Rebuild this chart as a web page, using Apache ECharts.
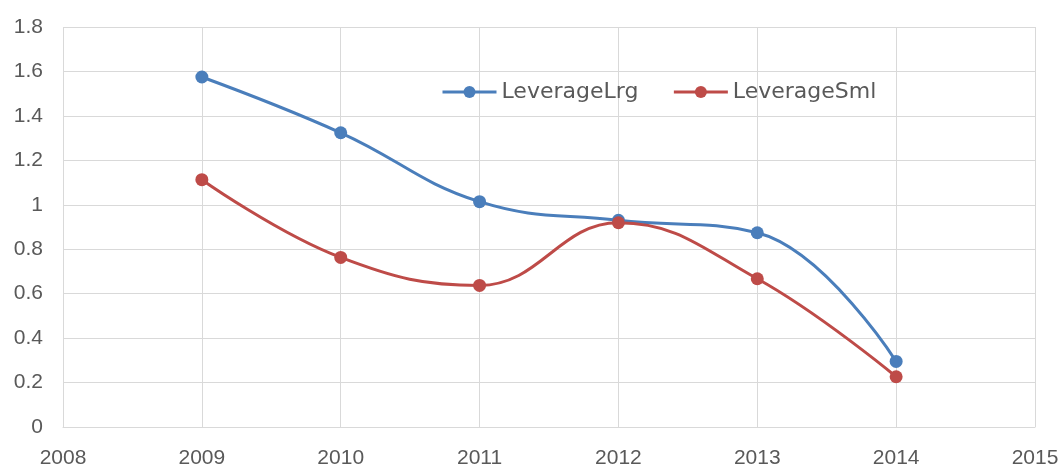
<!DOCTYPE html>
<html><head><meta charset="utf-8">
<script src="https://cdn.jsdelivr.net/npm/echarts@6/dist/echarts.min.js"></script>
<style>html,body{margin:0;padding:0;background:#fff}#c{width:1062px;height:469px}</style>
</head><body><div id="c"></div>
<script>
const years = [2009, 2010, 2011, 2012, 2013, 2014];
const leverageLrg = [1.575, 1.324, 1.014, 0.93, 0.874, 0.295];
const leverageSml = [1.113, 0.763, 0.637, 0.919, 0.667, 0.226];
const seriesNames = ['LeverageLrg', 'LeverageSml'];
const colors = ['#4a7ebb', '#be4b48'];

const chart = echarts.init(document.getElementById('c'), null, {renderer: 'canvas'});
const font = 'Liberation Sans, Arial, sans-serif';
const gridLine = {show: true, lineStyle: {color: '#d9d9d9', width: 1}};
chart.setOption({
  animation: false,
  grid: {left: 63, right: 27, top: 27, bottom: 41, containLabel: false},
  legend: {
    left: 436, top: 76,
    itemWidth: 54, itemHeight: 15, itemGap: 34,
    textStyle: {fontFamily: 'DejaVu Sans, sans-serif', fontSize: 22, color: '#595959'},
    data: seriesNames.map((n, i) => ({name: n, lineStyle: {width: 3, color: colors[i]}, itemStyle: {color: colors[i]}}))
  },
  xAxis: {
    type: 'value', min: 2008, max: 2015, interval: 1,
    axisLine: {show: true, lineStyle: {color: '#d9d9d9'}},
    axisTick: {show: false},
    splitLine: gridLine,
    axisLabel: {fontFamily: font, fontSize: 21, color: '#595959', margin: 21,
      formatter: v => String(v)}
  },
  yAxis: {
    type: 'value', min: 0, max: 1.8, interval: 0.2,
    axisLine: {show: false}, axisTick: {show: false},
    splitLine: gridLine,
    axisLabel: {fontFamily: font, fontSize: 21, color: '#595959', margin: 20,
      formatter: v => String(Math.round(v * 10) / 10)}
  },
  series: [
    {name: seriesNames[0], type: 'line', smooth: 0.42, symbol: 'circle', symbolSize: 13,
     data: years.map((y, i) => [y, leverageLrg[i]]),
     itemStyle: {color: colors[0]}, lineStyle: {color: colors[0], width: 3}},
    {name: seriesNames[1], type: 'line', smooth: 0.42, symbol: 'circle', symbolSize: 13,
     data: years.map((y, i) => [y, leverageSml[i]]),
     itemStyle: {color: colors[1]}, lineStyle: {color: colors[1], width: 3}}
  ]
});
</script></body></html>
